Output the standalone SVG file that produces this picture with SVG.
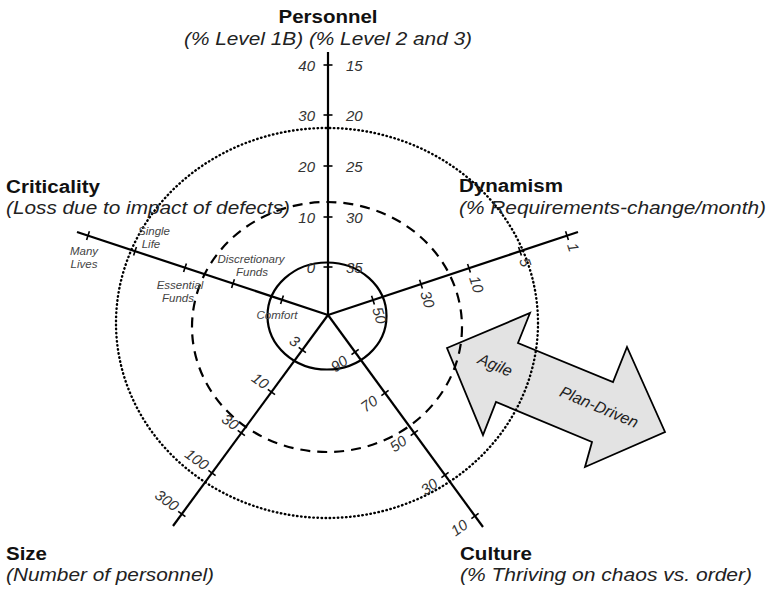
<svg xmlns="http://www.w3.org/2000/svg" width="769" height="589" viewBox="0 0 769 589">
<style>
.title{font-family:"Liberation Sans",Arial,sans-serif;font-weight:bold;font-size:18px;fill:#111}
.sub{font-family:"Liberation Sans",Arial,sans-serif;font-style:italic;font-size:18px;fill:#222}
.tk{font-family:"Liberation Sans",Arial,sans-serif;font-style:italic;font-size:15px;fill:#333}
.sm{font-family:"Liberation Sans",Arial,sans-serif;font-style:italic;font-size:11.5px;fill:#444;text-anchor:middle}
.ar{font-family:"Liberation Sans",Arial,sans-serif;font-style:italic;font-size:16px;fill:#222;text-anchor:middle}
.axis{stroke:#000;stroke-width:2.2;fill:none}
.tick{stroke:#000;stroke-width:1.6}
.ring{fill:none;stroke:#000}
</style>
<rect width="769" height="589" fill="#fff"/>

<g id="arrow">
<polygon points="447,348 530,313 518,343 613,382 627,347 665,432 585,467 592,442 496,402 483,435" fill="#e3e3e3" stroke="#000" stroke-width="1.8" stroke-linejoin="miter"/>
<text class="ar" transform="translate(493,370) rotate(23)">Agile</text>
<text class="ar" transform="translate(597,412) rotate(23)">Plan-Driven</text>
</g>

<g id="rings">
<ellipse class="ring" cx="327" cy="323" rx="211" ry="195" stroke-width="2.4" stroke-dasharray="0.5 3.6" stroke-linecap="round"/>
<ellipse class="ring" cx="327" cy="327" rx="135" ry="125" stroke-width="2.2" stroke-dasharray="10 7"/>
<ellipse class="ring" cx="327" cy="316" rx="59.5" ry="53.5" stroke-width="2.2"/>
</g>

<g id="connectors">
<line class="axis" x1="328" y1="315" x2="328" y2="52"/>
<line class="axis" x1="328" y1="315" x2="77" y2="232"/>
<line class="axis" x1="328" y1="315" x2="578" y2="232"/>
<line class="axis" x1="328" y1="315" x2="173" y2="526"/>
<line class="axis" x1="328" y1="315" x2="483" y2="527"/>
</g>

<g id="personnel">
<text class="title" x="328" y="23" text-anchor="middle" textLength="99" lengthAdjust="spacingAndGlyphs">Personnel</text>
<text class="sub" x="328" y="45" text-anchor="middle" textLength="288" lengthAdjust="spacingAndGlyphs">(% Level 1B) (% Level 2 and 3)</text>
<g class="tick">
<line x1="323.5" y1="65" x2="332.5" y2="65"/>
<line x1="323.5" y1="115" x2="332.5" y2="115"/>
<line x1="323.5" y1="166" x2="332.5" y2="166"/>
<line x1="323.5" y1="217" x2="332.5" y2="217"/>
<line x1="323.5" y1="267" x2="332.5" y2="267"/>
</g>
<g class="tk" text-anchor="end">
<text x="315" y="71">40</text>
<text x="315" y="121">30</text>
<text x="315" y="172">20</text>
<text x="315" y="223">10</text>
<text x="315" y="273">0</text>
</g>
<g class="tk">
<text x="346" y="71">15</text>
<text x="346" y="121">20</text>
<text x="346" y="172">25</text>
<text x="346" y="223">30</text>
<text x="346" y="273">35</text>
</g>
</g>

<g id="criticality">
<text class="title" x="6" y="193" textLength="94" lengthAdjust="spacingAndGlyphs">Criticality</text>
<text class="sub" x="6" y="214" textLength="284" lengthAdjust="spacingAndGlyphs">(Loss due to impact of defects)</text>
<g class="tick">
<line x1="89.4" y1="231.3" x2="86.6" y2="239.9"/>
<line x1="136.4" y1="246.9" x2="133.6" y2="255.5"/>
<line x1="186.4" y1="263.4" x2="183.6" y2="272"/>
<line x1="234.4" y1="279.3" x2="231.6" y2="287.9"/>
<line x1="283.4" y1="295.5" x2="280.6" y2="304.1"/>
</g>
<text class="sm" x="84" y="255">Many</text>
<text class="sm" x="84" y="268">Lives</text>
<text class="sm" x="154" y="235">Single</text>
<text class="sm" x="151" y="248">Life</text>
<text class="sm" x="180" y="289">Essential</text>
<text class="sm" x="178" y="302">Funds</text>
<text class="sm" x="251" y="263">Discretionary</text>
<text class="sm" x="252" y="276">Funds</text>
<text class="sm" x="277" y="319">Comfort</text>
</g>

<g id="dynamism">
<text class="title" x="459" y="192" textLength="104" lengthAdjust="spacingAndGlyphs">Dynamism</text>
<text class="sub" x="459" y="214" textLength="307" lengthAdjust="spacingAndGlyphs">(% Requirements-change/month)</text>
<g class="tick">
<line x1="565.6" y1="231.3" x2="568.4" y2="239.9"/>
<line x1="518.6" y1="247" x2="521.4" y2="255.6"/>
<line x1="467.6" y1="263.9" x2="470.4" y2="272.5"/>
<line x1="419.6" y1="279.8" x2="422.4" y2="288.4"/>
<line x1="371.6" y1="295.8" x2="374.4" y2="304.4"/>
</g>
<g class="tk">
<text transform="translate(567,245) rotate(72)">1</text>
<text transform="translate(519,260) rotate(72)">5</text>
<text transform="translate(469,278) rotate(72)">10</text>
<text transform="translate(420,293) rotate(72)">30</text>
<text transform="translate(372,309) rotate(72)">50</text>
</g>
</g>

<g id="size">
<text class="title" x="6" y="560" textLength="41" lengthAdjust="spacingAndGlyphs">Size</text>
<text class="sub" x="6" y="581" textLength="208" lengthAdjust="spacingAndGlyphs">(Number of personnel)</text>
<g class="tick">
<line x1="298.7" y1="347.3" x2="305.9" y2="352.7"/>
<line x1="267.8" y1="389.3" x2="275" y2="394.7"/>
<line x1="237.7" y1="430.3" x2="244.9" y2="435.7"/>
<line x1="208.4" y1="470.3" x2="215.6" y2="475.7"/>
<line x1="178.2" y1="511.3" x2="185.4" y2="516.7"/>
</g>
<g class="tk" text-anchor="end">
<text transform="translate(295,348) rotate(36)">3</text>
<text transform="translate(264,390) rotate(36)">10</text>
<text transform="translate(234,431) rotate(36)">30</text>
<text transform="translate(204,471) rotate(36)">100</text>
<text transform="translate(174,512) rotate(36)">300</text>
</g>
</g>

<g id="culture">
<text class="title" x="460" y="560" textLength="72" lengthAdjust="spacingAndGlyphs">Culture</text>
<text class="sub" x="460" y="581" textLength="292" lengthAdjust="spacingAndGlyphs">(% Thriving on chaos vs. order)</text>
<g class="tick">
<line x1="351.5" y1="354.7" x2="358.7" y2="349.3"/>
<line x1="381.4" y1="395.7" x2="388.6" y2="390.3"/>
<line x1="410.7" y1="435.7" x2="417.9" y2="430.3"/>
<line x1="441.4" y1="477.7" x2="448.6" y2="472.3"/>
<line x1="471.4" y1="518.7" x2="478.6" y2="513.3"/>
</g>
<g class="tk" text-anchor="end">
<text transform="translate(349,363) rotate(-36)">90</text>
<text transform="translate(379,403) rotate(-36)">70</text>
<text transform="translate(408,443) rotate(-36)">50</text>
<text transform="translate(439,486) rotate(-36)">30</text>
<text transform="translate(469,527) rotate(-36)">10</text>
</g>
</g>
</svg>
